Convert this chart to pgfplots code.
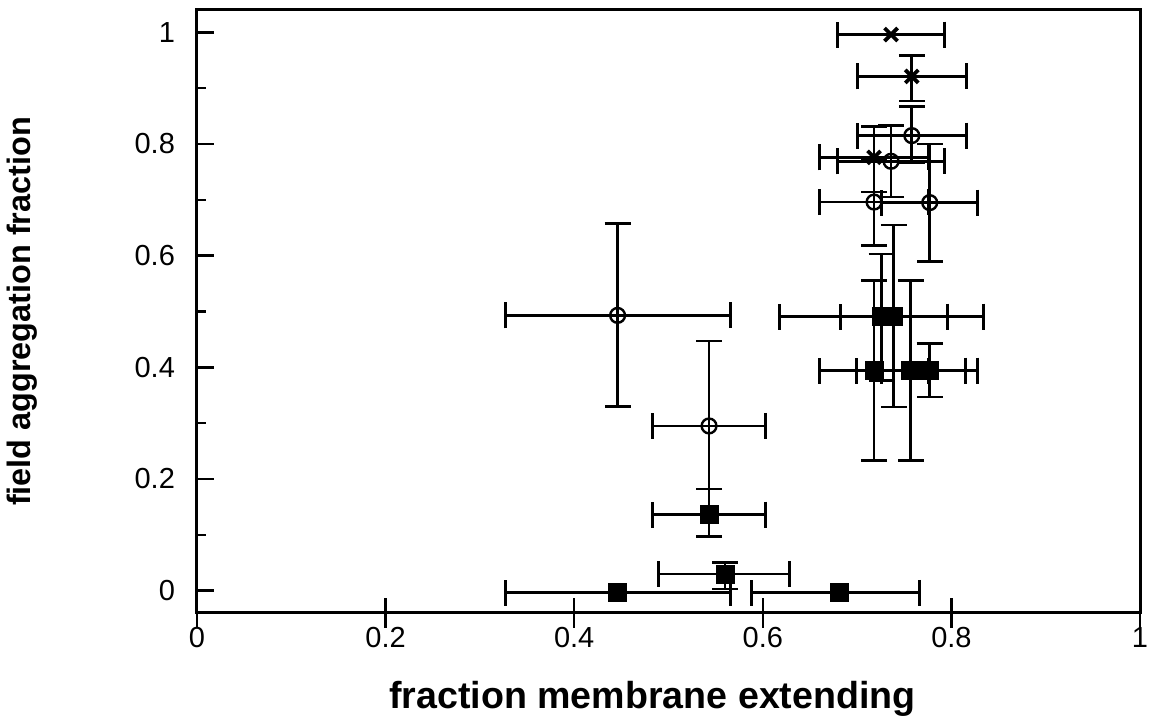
\documentclass[border=0pt]{standalone}
\usepackage{pgfplots}
\pgfplotsset{compat=1.18}
\usepackage{pgfplotstable}
\usepackage{fontspec}
\setmainfont{Liberation Sans}

\pgfplotstableread{
x y exm exp eym eyp
0.446 0.493 0.119 0.120 0.163 0.164
0.543 0.295 0.060 0.060 0.113 0.152
0.758 0.815 0.058 0.058 0.049 0.052
0.736 0.769 0.057 0.057 0.064 0.064
0.718 0.696 0.058 0.058 0.078 0.078
0.777 0.695 0.051 0.051 0.105 0.105
}\circdata

\pgfplotstableread{
x y exm exp eym eyp
0.736 0.996 0.057 0.057 0.000 0.000
0.758 0.921 0.058 0.058 0.044 0.038
0.718 0.776 0.058 0.058 0.062 0.056
}\crossdata

\pgfplotstableread{
x y exm exp eym eyp
0.446 -0.004 0.119 0.120 0.000 0.000
0.560 0.030 0.071 0.068 0.027 0.021
0.681 -0.004 0.093 0.085 0.000 0.000
0.543 0.136 0.060 0.060 0.039 0.046
0.726 0.491 0.108 0.108 0.115 0.112
0.739 0.491 0.057 0.057 0.162 0.164
0.718 0.394 0.058 0.058 0.161 0.161
0.757 0.394 0.058 0.058 0.161 0.161
0.777 0.394 0.051 0.051 0.047 0.048
}\sqdata

\begin{document}
\begin{tikzpicture}
\begin{axis}[
  scale only axis,
  width=471.5pt, height=301.5pt,
  xmin=0, xmax=1, ymin=-0.04, ymax=1.04,
  axis line style={line width=1.5pt},
  xtick={0,0.2,0.4,0.6,0.8,1},
  xticklabels={0,0.2,0.4,0.6,0.8,1},
  ytick={0,0.2,0.4,0.6,0.8,1},
  yticklabels={0,0.2,0.4,0.6,0.8,1},
  minor ytick={0.1,0.3,0.5,0.7,0.9},
  xtick pos=bottom, ytick pos=left,
  x tick style={draw=none},
  y tick style={line width=1.2pt, black},
  tick align=inside,
  major tick length=8.5pt,
  minor tick length=4.5pt,
  tick label style={font=\fontsize{14.5}{16}\selectfont},
  yticklabel style={xshift=-7.5pt},
  xticklabel style={yshift=-3.5pt},
  xlabel={\bfseries fraction membrane extending},
  ylabel={\bfseries field aggregation fraction},
  xlabel style={font=\fontsize{18.8}{20}\selectfont, at={(axis description cs:0.483,-0.142)}, anchor=center},
  ylabel style={font=\fontsize{16.2}{18}\selectfont, at={(axis description cs:-0.185,0.5)}, anchor=center},
  clip=false,
  error bars/error bar style={line width=1.4pt, black},
  error bars/error mark options={rotate=90, mark size=6.5pt, line width=1.4pt, black},
]
\addplot[only marks, mark=o, mark size=3.7pt, mark options={line width=1.2pt, black},
  error bars/.cd, x dir=both, y dir=both, x explicit, y explicit]
  table[x=x, y=y, x error plus=exp, x error minus=exm, y error plus=eyp, y error minus=eym] {\circdata};
\addplot[only marks, mark=x, mark size=4.6pt, mark options={line width=1.9pt, black},
  error bars/.cd, x dir=both, y dir=both, x explicit, y explicit]
  table[x=x, y=y, x error plus=exp, x error minus=exm, y error plus=eyp, y error minus=eym] {\crossdata};
\addplot[only marks, mark=square*, mark size=4.5pt, mark options={black, fill=black},
  error bars/.cd, x dir=both, y dir=both, x explicit, y explicit]
  table[x=x, y=y, x error plus=exp, x error minus=exm, y error plus=eyp, y error minus=eym] {\sqdata};
\end{axis}
\begin{axis}[
  scale only axis,
  width=471.5pt, height=301.5pt,
  xmin=0, xmax=1, ymin=-0.04, ymax=1.04,
  axis x line*=bottom, axis y line=none,
  axis line style={draw=none},
  xtick={0,0.2,0.4,0.6,0.8,1},
  xticklabels={},
  ytick=\empty,
  xtick align=center,
  major tick length=15pt,
  x tick style={line width=1.2pt, black},
]
\end{axis}
\pgfresetboundingbox
\path[use as bounding box] (current axis.south west) ++(-98.5pt,-56.5pt) rectangle ([xshift=5pt,yshift=5pt]current axis.north east);
\end{tikzpicture}
\end{document}
